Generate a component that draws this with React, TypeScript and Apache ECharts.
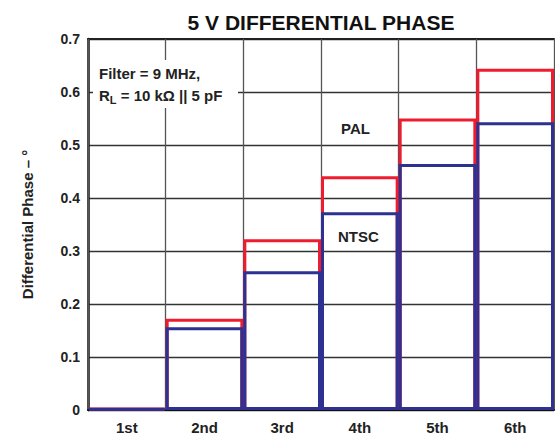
import React, { useEffect, useRef } from "react";
import * as echarts from "echarts";

const categories = ["1st", "2nd", "3rd", "4th", "5th", "6th"];
const palValues = [0.004, 0.172, 0.322, 0.441, 0.55, 0.644];
const ntscValues = [0.003, 0.156, 0.262, 0.373, 0.464, 0.543];
const yTicks = { min: 0, max: 0.7, interval: 0.1 };

const FONT = "'Liberation Sans', Arial, sans-serif";

export default function App() {
  const ref = useRef<HTMLDivElement>(null);
  useEffect(() => {
    if (!ref.current) return;
    const chart = echarts.init(ref.current, undefined, { renderer: "svg" });
    chart.setOption({
      animation: false,
      backgroundColor: "#ffffff",
      title: {
        text: "5 V DIFFERENTIAL PHASE",
        left: 316,
        textAlign: "center",
        top: 7,
        textStyle: { fontFamily: FONT, fontWeight: "bold", fontSize: 21, color: "#111" },
      },
      grid: { left: 88, right: 1, top: 39, bottom: 30, containLabel: false },
      xAxis: [
        {
          type: "category",
          data: categories,
          boundaryGap: true,
          axisLine: { show: true, lineStyle: { color: "#111", width: 2 } },
          axisTick: { show: false },
          axisLabel: { fontFamily: FONT, fontWeight: "bold", fontSize: 15, color: "#222", margin: 10 },
          splitLine: { show: true, lineStyle: { color: "#555", width: 1.3 } },
          z: 1,
        },
        {
          type: "category",
          data: categories,
          position: "top",
          axisLine: { show: true, lineStyle: { color: "#222", width: 2 } },
          axisTick: { show: false },
          axisLabel: { show: false },
          splitLine: { show: false },
        },
      ],
      yAxis: {
        type: "value",
        min: yTicks.min,
        max: yTicks.max,
        interval: yTicks.interval,
        name: "Differential Phase \u2013 \u00b0",
        nameLocation: "middle",
        nameGap: 53,
        nameTextStyle: { fontFamily: FONT, fontWeight: "bold", fontSize: 15, color: "#222" },
        axisLine: { show: true, lineStyle: { color: "#111", width: 2.5 } },
        axisTick: { show: false },
        axisLabel: {
          fontFamily: FONT,
          fontWeight: "bold",
          fontSize: 14,
          color: "#222",
          margin: 8,
          formatter: (v: number) => (v === 0 ? "0" : v.toFixed(1)),
        },
        splitLine: { show: true, lineStyle: { color: "#333", width: 1.3 } },
      },
      series: [
        {
          name: "PAL",
          type: "bar",
          data: palValues,
          barWidth: "100%",
          barGap: "-100%",
          itemStyle: { color: "rgba(0,0,0,0)", borderColor: "#ee1c2e", borderWidth: 3 },
          z: 3,
        },
        {
          name: "NTSC",
          type: "bar",
          data: ntscValues,
          barWidth: "100%",
          barGap: "-100%",
          itemStyle: { color: "rgba(0,0,0,0)", borderColor: "#2e3192", borderWidth: 3 },
          z: 4,
        },
      ],
      graphic: [
        {
          type: "rect",
          shape: { x: 93, y: 60, width: 145, height: 48 },
          style: { fill: "#ffffff" },
          z: 10,
        },
        {
          type: "text",
          x: 99,
          y: 66,
          style: {
            text: "Filter = 9 MHz,",
            font: `bold 15px ${FONT}`,
            fill: "#222",
          },
          z: 11,
        },
        {
          type: "text",
          x: 99,
          y: 85,
          style: {
            text: "R{sub|L} = 10 k\u03a9 || 5 pF",
            font: `bold 15px ${FONT}`,
            fill: "#222",
            rich: {
              sub: { font: `bold 11px ${FONT}`, fill: "#222", padding: [9, 0, 0, 0] },
            },
          },
          z: 11,
        },
        {
          type: "text",
          x: 341,
          y: 121,
          style: { text: "PAL", font: `bold 15px ${FONT}`, fill: "#222" },
          z: 11,
        },
        {
          type: "text",
          x: 338,
          y: 229,
          style: { text: "NTSC", font: `bold 15px ${FONT}`, fill: "#222" },
          z: 11,
        },
      ],
    });
    return () => chart.dispose();
  }, []);
  return (
    <div
      ref={ref}
      style={{ position: "absolute", left: 0, top: 0, width: 555, height: 440 }}
    />
  );
}
